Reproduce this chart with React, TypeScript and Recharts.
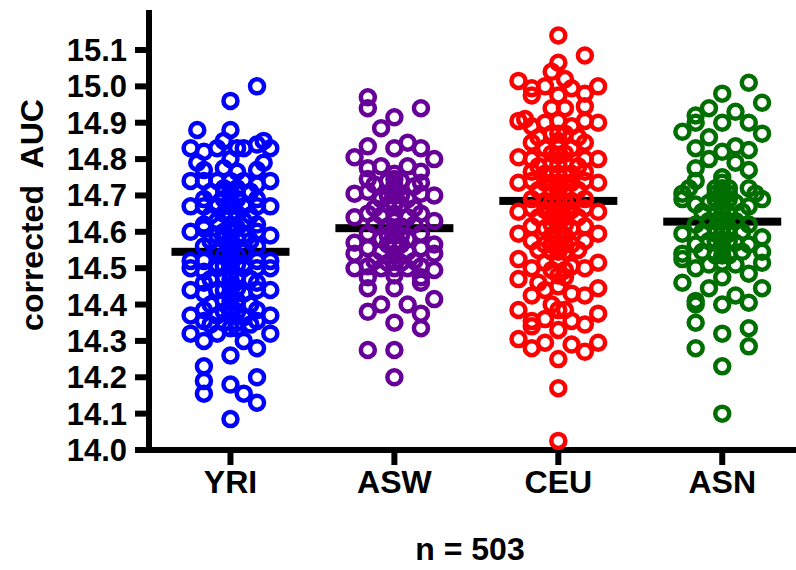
import React from 'react'
import { ScatterChart, Scatter, XAxis, YAxis } from 'recharts'

const CATEGORIES = ['YRI', 'ASW', 'CEU', 'ASN']
const MEANS = [14.545, 14.61, 14.685, 14.628]
const Y_TICKS = [14.0, 14.1, 14.2, 14.3, 14.4, 14.5, 14.6, 14.7, 14.8, 14.9, 15.0, 15.1]

// [column slot in the swarm, corrected AUC]
const yriPoints: [number, number][] = [
    [2, 15.0], [0, 14.96], [-2.5, 14.88], [0, 14.88],
    [-3, 14.83], [-2, 14.82], [-1, 14.83], [-0.5, 14.85], [0.5, 14.83], [1, 14.83], [2, 14.84], [2.5, 14.85], [3, 14.83],
    [-2.5, 14.79], [0, 14.8], [2.5, 14.79], [-0.5, 14.775], [0.5, 14.765], [-2, 14.77], [2, 14.77],
    [-3, 14.74], [-2, 14.74], [-1, 14.74], [0, 14.74], [1, 14.74], [2, 14.73], [3, 14.74],
    [-1.5, 14.71], [-0.5, 14.72], [0.5, 14.72], [1.5, 14.71], [0, 14.71],
    [-2, 14.69], [0, 14.7], [2, 14.69], [-0.5, 14.69], [0.5, 14.69], [0, 14.685],
    [-3, 14.67], [-2, 14.67], [-1, 14.67], [0, 14.67], [1, 14.67], [2, 14.67], [3, 14.67],
    [-1.5, 14.645], [-0.5, 14.65], [0.5, 14.65], [1.5, 14.645], [0, 14.645],
    [-2, 14.62], [0, 14.62], [2, 14.62], [-1, 14.63], [1, 14.63], [-0.5, 14.6], [0.5, 14.61],
    [-3, 14.6], [-2, 14.61], [-1, 14.59], [0, 14.6], [1, 14.59], [2, 14.6], [3, 14.59],
    [-1.5, 14.575], [-0.5, 14.58], [0.5, 14.58], [1.5, 14.575], [0, 14.58],
    [-2, 14.56], [0, 14.56], [2, 14.56], [-1, 14.545], [1, 14.545], [-0.5, 14.535], [0.5, 14.535], [0, 14.54],
    [-3, 14.52], [-2, 14.52], [0, 14.52], [2, 14.52], [3, 14.52], [-1, 14.51], [1, 14.51], [0, 14.505],
    [-0.5, 14.505], [0.5, 14.51],
    [-3, 14.5], [-2, 14.49], [-1, 14.5], [0, 14.49], [1, 14.5], [2, 14.5], [3, 14.5],
    [-0.5, 14.475], [0.5, 14.475], [-1.5, 14.47], [1.5, 14.47], [-2, 14.46], [0, 14.455], [2, 14.46], [0, 14.47],
    [-3, 14.44], [-2, 14.43], [-1, 14.44], [0, 14.43], [1, 14.43], [2, 14.44], [3, 14.44],
    [-0.5, 14.44], [0.5, 14.445],
    [-0.5, 14.41], [0.5, 14.41], [-1.5, 14.4], [1.5, 14.4], [0, 14.41],
    [-2, 14.385], [0, 14.39], [2, 14.385], [-0.5, 14.38], [0.5, 14.38],
    [-3, 14.37], [-2, 14.355], [-1, 14.37], [0, 14.37], [1, 14.365], [2, 14.355], [3, 14.37],
    [-1.5, 14.345], [-0.5, 14.35], [0.5, 14.35], [1.5, 14.345],
    [-3, 14.32], [-1, 14.32], [0, 14.335], [0.5, 14.335], [1, 14.3], [3, 14.32],
    [-2, 14.3], [2, 14.28], [0, 14.26], [-2, 14.23], [2, 14.2], [-2, 14.19], [0, 14.18],
    [-2, 14.155], [1, 14.155], [2, 14.13], [0, 14.085],
]

const aswPoints: [number, number][] = [
    [-2, 14.97], [-2, 14.94], [2, 14.94], [0, 14.915], [-1, 14.885],
    [-2, 14.835], [0, 14.83], [1, 14.845], [2, 14.83], [-3, 14.805], [3, 14.8],
    [-2, 14.775], [-1, 14.78], [1, 14.78], [2, 14.765], [0, 14.76],
    [-2, 14.745], [-1.5, 14.73], [-0.5, 14.74], [0.5, 14.74], [2, 14.735], [1.5, 14.725], [0, 14.725], [0, 14.745],
    [-3, 14.705], [-1, 14.69], [1, 14.69], [3, 14.7], [-2, 14.71], [0, 14.7], [2, 14.705], [0, 14.715],
    [-0.5, 14.7], [0.5, 14.7],
    [-0.5, 14.675], [0.5, 14.675], [-1.5, 14.665], [1.5, 14.665], [0, 14.675],
    [-3, 14.64], [-2, 14.65], [-1, 14.645], [0, 14.65], [1, 14.64], [2, 14.65], [3, 14.63], [0, 14.63],
    [-1.5, 14.62], [-0.5, 14.615], [0.5, 14.615], [1.5, 14.62], [0, 14.605],
    [-2, 14.595], [0, 14.59], [2, 14.595], [-1, 14.58], [1, 14.58], [-0.5, 14.59], [0.5, 14.59],
    [-3, 14.57], [3, 14.565], [-0.5, 14.565], [0.5, 14.565], [-2, 14.555], [2, 14.555], [0, 14.565],
    [-3, 14.54], [-1, 14.545], [0, 14.54], [1, 14.545], [3, 14.54],
    [-1.5, 14.52], [-0.5, 14.515], [0.5, 14.515], [1.5, 14.52], [0, 14.52],
    [-3, 14.5], [-2, 14.505], [-1, 14.5], [0, 14.5], [1, 14.5], [2, 14.505], [3, 14.495],
    [-2, 14.475], [0, 14.48], [2, 14.475],
    [-2, 14.445], [0, 14.445], [2, 14.46],
    [3, 14.415], [-1, 14.4], [1, 14.4], [-2, 14.38], [2, 14.375],
    [0, 14.35], [2, 14.335], [-2, 14.275], [0, 14.275], [0, 14.2],
]

const ceuPoints: [number, number][] = [
    [0, 15.14], [2, 15.085], [0, 15.065], [-0.5, 15.04], [0.5, 15.02],
    [-3, 15.015], [-1, 15.0], [1, 14.995], [3, 15.0], [-2, 14.995], [-2, 14.975], [0, 14.975], [2, 14.98],
    [-0.5, 14.94], [0.5, 14.94], [2, 14.945],
    [-3, 14.905], [-2.5, 14.91], [-1, 14.9], [0, 14.905], [2, 14.905], [3, 14.9], [-2, 14.89], [1, 14.89],
    [-0.5, 14.87], [0.5, 14.87], [-1.5, 14.86], [1.5, 14.86], [0, 14.87],
    [-2, 14.845], [0, 14.85], [2, 14.845], [-1, 14.83], [1, 14.83], [0, 14.83],
    [-3, 14.805], [3, 14.8], [-0.5, 14.815], [0.5, 14.815], [-2, 14.8], [2, 14.8], [0, 14.81],
    [-1.5, 14.78], [0, 14.785], [1.5, 14.78], [-0.5, 14.79], [0.5, 14.79],
    [-2, 14.765], [-1, 14.76], [-0.5, 14.755], [0.5, 14.755], [1, 14.76], [2, 14.765], [0, 14.76],
    [-3, 14.735], [-1, 14.735], [0, 14.735], [1, 14.735], [3, 14.735], [-2, 14.74], [2, 14.74],
    [-0.5, 14.735], [0.5, 14.735],
    [-1.5, 14.715], [-0.5, 14.71], [0.5, 14.71], [1.5, 14.715], [0, 14.71],
    [-2, 14.69], [0, 14.69], [2, 14.69], [-1, 14.685], [1, 14.685], [-0.5, 14.68], [0.5, 14.68],
    [-3, 14.655], [3, 14.655], [-2, 14.665], [-1, 14.66], [0, 14.66], [1, 14.66], [2, 14.665],
    [-1.5, 14.64], [-0.5, 14.64], [0.5, 14.64], [1.5, 14.64], [0, 14.64],
    [-2, 14.615], [0, 14.615], [2, 14.615], [-1, 14.61], [1, 14.61], [-0.5, 14.62], [0.5, 14.62],
    [-3, 14.595], [3, 14.595], [-0.5, 14.59], [0.5, 14.59], [0, 14.595],
    [-2, 14.575], [0, 14.57], [2, 14.575], [-1, 14.565], [1, 14.565], [-0.5, 14.565], [0.5, 14.565],
    [-1.5, 14.55], [-0.5, 14.545], [0.5, 14.545], [1.5, 14.55], [0, 14.545],
    [-3, 14.525], [-1, 14.515], [0, 14.52], [1, 14.505], [3, 14.515],
    [-2, 14.5], [2, 14.5], [-0.5, 14.495], [0.5, 14.495],
    [-3, 14.47], [0, 14.48], [0.5, 14.475], [-1.5, 14.46],
    [3, 14.445], [-1, 14.44], [1, 14.43], [-2, 14.425], [2, 14.425], [0, 14.45],
    [-0.5, 14.4], [0, 14.385], [0.5, 14.385], [-3, 14.385], [3, 14.375],
    [-1, 14.36], [1, 14.355], [-2, 14.355], [2, 14.345], [-2, 14.34], [0, 14.33],
    [-3, 14.305], [-1, 14.295], [1, 14.29], [3, 14.295], [-2, 14.28], [2, 14.27],
    [0, 14.25], [0, 14.17], [0, 14.025],
]

const asnPoints: [number, number][] = [
    [2, 15.01], [0, 14.98], [3, 14.955], [-1, 14.94], [-2, 14.92], [1, 14.93], [-2, 14.9], [2, 14.9], [0, 14.9],
    [-3, 14.875], [3, 14.87], [-1, 14.86], [-2, 14.83], [0, 14.82], [1, 14.835], [2, 14.825],
    [-1, 14.8], [1, 14.79], [-2, 14.775], [2, 14.77],
    [-2, 14.74], [0, 14.735], [-0.5, 14.72], [0.5, 14.72], [0, 14.705], [0, 14.75], [0, 14.72],
    [-2.5, 14.72], [2, 14.72], [-3, 14.705], [2.5, 14.705], [-3, 14.69], [3, 14.69], [-0.5, 14.705], [0.5, 14.705],
    [-2, 14.675], [-1, 14.68], [1, 14.68], [2, 14.67], [-0.5, 14.69], [0.5, 14.69], [0, 14.685],
    [0, 14.665], [-0.5, 14.65], [0.5, 14.65], [-1.5, 14.655], [1.5, 14.655], [0, 14.65],
    [0, 14.635], [-1, 14.63], [1, 14.63],
    [-2, 14.62], [2, 14.62], [-0.5, 14.61], [0.5, 14.61], [0, 14.61],
    [-3, 14.595], [3, 14.585], [0, 14.595], [-1.5, 14.6], [1.5, 14.6], [-0.5, 14.595], [0.5, 14.595],
    [-2, 14.565], [-1, 14.575], [1, 14.57], [2, 14.565], [-0.5, 14.575], [0.5, 14.575], [0, 14.575],
    [0, 14.555], [-3, 14.54], [3, 14.545], [-1.5, 14.545], [1.5, 14.545], [-0.5, 14.535], [0.5, 14.535], [0, 14.535],
    [-3, 14.525], [-1, 14.51], [1, 14.51], [3, 14.515], [-2, 14.5], [2, 14.485], [0, 14.515],
    [0, 14.475], [-3, 14.46], [-1, 14.445], [3, 14.445], [1, 14.425],
    [-2, 14.41], [-2, 14.4], [0, 14.4], [2, 14.405],
    [-2, 14.35], [2, 14.335], [0, 14.32], [-2, 14.28], [2, 14.285], [0, 14.23], [0, 14.1],
]

const GROUPS = [
    { points: yriPoints, color: '#0000ff' },
    { points: aswPoints, color: '#660099' },
    { points: ceuPoints, color: '#ff0000' },
    { points: asnPoints, color: '#006e00' },
]

const COL_STEP = 0.081
const FONT = '"Liberation Sans", Arial, Helvetica, sans-serif'

const Ring = (color: string) => (props: any) => (
    <circle cx={props.cx} cy={props.cy} r={7} fill="none" stroke={color} strokeWidth={4.5} />
)

const MeanBar = (props: any) => (
    <rect x={props.cx - 59} y={props.cy - 4} width={118} height={8} fill="#000" />
)

export default function App() {
    const meanData = MEANS.map((m, i) => ({ x: i, y: m }))
    return (
        <div style={{ position: 'fixed', left: 0, top: 0, width: 796, height: 570, background: '#fff' }}>
            <ScatterChart width={796} height={570} margin={{ top: 10, right: 0, bottom: 60, left: 0 }}>
                <XAxis
                    type="number"
                    dataKey="x"
                    domain={[-0.497, 3.45]}
                    ticks={[0, 1, 2, 3]}
                    interval={0}
                    allowDataOverflow
                    height={60}
                    tickFormatter={(i) => CATEGORIES[i]}
                    axisLine={{ stroke: '#000', strokeWidth: 6 }}
                    tickLine={{ stroke: '#000', strokeWidth: 6 }}
                    tickSize={15}
                    tickMargin={5}
                    tick={{ fill: '#000', fontSize: 32, fontWeight: 'bold', fontFamily: FONT }}
                />
                <YAxis
                    type="number"
                    dataKey="y"
                    domain={[14.0, 15.21]}
                    ticks={Y_TICKS}
                    interval={0}
                    allowDataOverflow
                    width={149}
                    tickFormatter={(v) => v.toFixed(1)}
                    axisLine={{ stroke: '#000', strokeWidth: 6 }}
                    tickLine={{ stroke: '#000', strokeWidth: 6 }}
                    tickSize={14}
                    tickMargin={8}
                    tick={{ fill: '#000', fontSize: 31, fontWeight: 'bold', fontFamily: FONT }}
                />
                <Scatter data={meanData} shape={MeanBar} isAnimationActive={false} />
                {GROUPS.map((g, i) => (
                    <Scatter
                        key={CATEGORIES[i]}
                        data={g.points.map(([c, v]) => ({ x: i + c * COL_STEP, y: v }))}
                        shape={Ring(g.color)}
                        isAnimationActive={false}
                    />
                ))}
                <text
                    x={43}
                    y={215}
                    transform="rotate(-90 43 215)"
                    textAnchor="middle"
                    style={{ whiteSpace: 'pre' }}
                    fontSize={32}
                    fontWeight="bold"
                    fontFamily={FONT}
                    fill="#000"
                >
                    {'corrected  AUC'}
                </text>
                <text
                    x={470}
                    y={560}
                    textAnchor="middle"
                    fontSize={32}
                    fontWeight="bold"
                    fontFamily={FONT}
                    fill="#000"
                >
                    n = 503
                </text>
            </ScatterChart>
        </div>
    )
}
